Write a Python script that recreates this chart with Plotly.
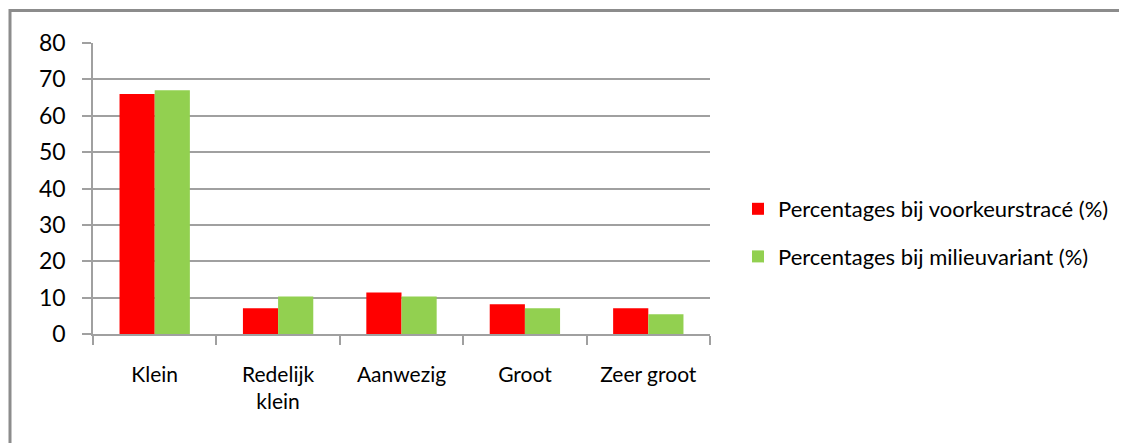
import plotly.graph_objects as go

categories = ["Klein", "Redelijk<br>klein", "Aanwezig", "Groot", "Zeer groot"]
voorkeur = [66.0, 7.1, 11.4, 8.2, 7.1]
milieu = [67.0, 10.3, 10.3, 7.1, 5.4]
series_names = ["Percentages bij voorkeurstracé (%)", "Percentages bij milieuvariant (%)"]
y_ticks = [0, 10, 20, 30, 40, 50, 60, 70, 80]

FONT = "Lato, 'Open Sans', sans-serif"
OFF = 8  # page body margin
W, H = 1127 - OFF, 443 - OFF
L, T = 93 - OFF, 43 - OFF
R = W - (710 - OFF)
B = H - (334 - OFF)
pw = W - L - R
ph = H - T - B

def px_x(x):
    return (x - OFF - L) / pw

def px_y(y):
    return (H - B - (y - OFF)) / ph

fig = go.Figure()
fig.add_trace(go.Bar(x=categories, y=voorkeur, name=series_names[0],
                     marker=dict(color="#FF0000", line=dict(width=0)), legendgroup="a"))
fig.add_trace(go.Bar(x=categories, y=milieu, name=series_names[1],
                     marker=dict(color="#92D050", line=dict(width=0)), legendgroup="b"))

frame_color = "#8C8C8C"
fig.add_shape(type="line", xref="paper", yref="paper",
              x0=px_x(9), x1=px_x(1140), y0=px_y(10.5), y1=px_y(10.5),
              line=dict(color=frame_color, width=3))
fig.add_shape(type="line", xref="paper", yref="paper",
              x0=px_x(10), x1=px_x(10), y0=px_y(9), y1=px_y(460),
              line=dict(color=frame_color, width=3))

fig.update_layout(
    width=W, height=H,
    margin=dict(l=L, r=R, t=T, b=B),
    paper_bgcolor="white", plot_bgcolor="white",
    barmode="group", bargap=0.43, bargroupgap=0,
    font=dict(family=FONT, color="#000000"),
    showlegend=True,
    legend=dict(x=px_x(738), y=px_y(188), xanchor="left", yanchor="top",
                font=dict(family=FONT, size=22, color="#000000"),
                traceorder="grouped", tracegroupgap=16, bgcolor="rgba(0,0,0,0)"),
    xaxis=dict(type="category", showgrid=False, showline=True, linecolor="#A0A0A0", linewidth=1.5,
               ticks="outside", tickson="boundaries", ticklen=9, tickcolor="#A0A0A0", tickwidth=1.5,
               tickfont=dict(family=FONT, size=21, color="#000000"), ticklabelstandoff=21),
    yaxis=dict(range=[0, 80], tickvals=y_ticks, showgrid=True, gridcolor="#A0A0A0", gridwidth=1.5,
               showline=True, linecolor="#A0A0A0", linewidth=1.5, zeroline=False,
               ticks="outside", ticklen=9, tickcolor="#A0A0A0", tickwidth=1.5,
               tickfont=dict(family=FONT, size=23, color="#000000"), ticklabelstandoff=12),
)

fig.write_html("out.html")
